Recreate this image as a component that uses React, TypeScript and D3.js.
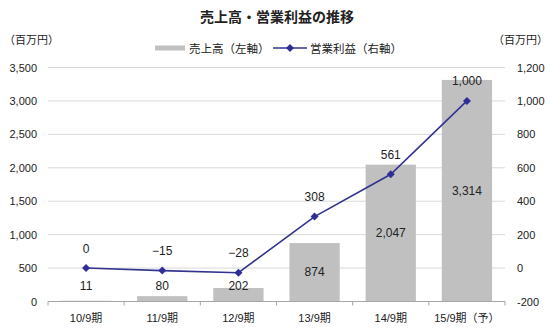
import React from "react";
import * as d3 from "d3";

const categories = ["10/9期", "11/9期", "12/9期", "13/9期", "14/9期", "15/9期（予）"];
const sales = [11, 80, 202, 874, 2047, 3314];
const profit = [0, -15, -28, 308, 561, 1000];
const leftTicks = [0, 500, 1000, 1500, 2000, 2500, 3000, 3500];
const rightTicks = [-200, 0, 200, 400, 600, 800, 1000, 1200];

const W = 550;
const H = 328;
const FONT = "'Liberation Sans', 'Noto Sans CJK JP', sans-serif";
const JFONT = "'Noto Sans CJK JP', 'Liberation Sans', sans-serif";

export default function App() {
  const left = 48;
  const right = 505;
  const top = 67.5;
  const bottom = 301.5;

  const x = d3.scaleBand<string>().domain(categories).range([left, right]).paddingInner(0.34).paddingOuter(0.17);
  const xOuter = d3.scaleBand<string>().domain(categories).range([left, right]);
  const yL = d3.scaleLinear().domain([0, 3500]).range([bottom, top]);
  const yR = d3.scaleLinear().domain([-200, 1200]).range([bottom, top]);

  const line = d3
    .line<number>()
    .x((_, i) => (xOuter(categories[i]) as number) + xOuter.bandwidth() / 2)
    .y((d) => yR(d));

  const diamond = d3.symbol(d3.symbolSquare, 32)() as string;
  const fmt = d3.format(",");

  return (
    <svg
      width={W}
      height={H}
      style={{ position: "absolute", left: 0, top: 0, background: "#fff" }}
    >
      <rect x={0} y={0} width={W} height={H} fill="#fff" />
      {/* title */}
      <text x={277} y={16} textAnchor="middle" dominantBaseline="central" fontFamily={JFONT} fontSize={14} fontWeight="bold" fill="#222">
        売上高・営業利益の推移
      </text>
      {/* units */}
      <text x={4} y={38.5} dominantBaseline="central" fontFamily={JFONT} fontSize={11} fill="#222">
        （百万円）
      </text>
      <text x={548} y={38.5} textAnchor="end" dominantBaseline="central" fontFamily={JFONT} fontSize={11} fill="#222">
        （百万円）
      </text>
      {/* legend */}
      <rect x={155} y={45.5} width={30} height={5} fill="#C0C0C0" />
      <text x={189} y={48} dominantBaseline="central" fontFamily={JFONT} fontSize={11.5} fill="#222">
        売上高（左軸）
      </text>
      <line x1={273} x2={307} y1={48} y2={48} stroke="#33338F" strokeWidth={1.5} />
      <path d={diamond} transform="translate(290,48) rotate(45)" fill="#2E2E96" />
      <text x={310} y={48} dominantBaseline="central" fontFamily={JFONT} fontSize={11.5} fill="#222">
        営業利益（右軸）
      </text>

      {/* gridlines */}
      {leftTicks.filter((t) => t > 0).map((t) => (
        <line key={t} x1={left} x2={right} y1={yL(t)} y2={yL(t)} stroke="#D9D9D9" strokeWidth={1} />
      ))}
      {/* left axis labels */}
      {leftTicks.map((t) => (
        <text key={t} x={37} y={yL(t)} textAnchor="end" dominantBaseline="central" fontFamily={FONT} fontSize={11} fill="#222">
          {fmt(t)}
        </text>
      ))}
      {/* right axis labels */}
      {rightTicks.map((t) => (
        <text key={t} x={517} y={yR(t)} dominantBaseline="central" fontFamily={FONT} fontSize={11} fill="#222">
          {t < 0 ? "-" + fmt(-t) : fmt(t)}
        </text>
      ))}

      {/* bars */}
      {sales.map((v, i) => (
        <rect key={i} x={x(categories[i])} y={yL(v)} width={x.bandwidth()} height={bottom - yL(v)} fill="#C0C0C0" />
      ))}

      {/* x axis */}
      <line x1={left} x2={right} y1={bottom} y2={bottom} stroke="#A6A6A6" strokeWidth={1} />
      {categories.concat(["end"]).map((c, i) => {
        const tx = left + i * xOuter.step();
        return <line key={i} x1={tx} x2={tx} y1={bottom} y2={bottom + 4} stroke="#A6A6A6" strokeWidth={1} />;
      })}
      {categories.map((c) => (
        <text key={c} x={(xOuter(c) as number) + xOuter.bandwidth() / 2} y={318} textAnchor="middle" dominantBaseline="central" fontFamily={FONT} fontSize={11} fill="#222">
          {c}
        </text>
      ))}

      {/* bar labels */}
      {sales.map((v, i) => {
        const mid = (yL(v) + bottom) / 2;
        return (
          <text key={i} x={(x(categories[i]) as number) + x.bandwidth() / 2} y={Math.min(mid, 286)} textAnchor="middle" dominantBaseline="central" fontFamily={FONT} fontSize={12} fill="#222">
            {fmt(v)}
          </text>
        );
      })}

      {/* line */}
      <path d={line(profit) as string} fill="none" stroke="#33338F" strokeWidth={1.6} />
      {profit.map((v, i) => {
        const cx = (xOuter(categories[i]) as number) + xOuter.bandwidth() / 2;
        return (
          <g key={i}>
            <path d={diamond} transform={`translate(${cx},${yR(v)}) rotate(45)`} fill="#2E2E96" />
            <text x={cx} y={yR(v) - 19.5} textAnchor="middle" dominantBaseline="central" fontFamily={FONT} fontSize={12} fill="#222">
              {v < 0 ? "−" + fmt(-v) : fmt(v)}
            </text>
          </g>
        );
      })}
    </svg>
  );
}
